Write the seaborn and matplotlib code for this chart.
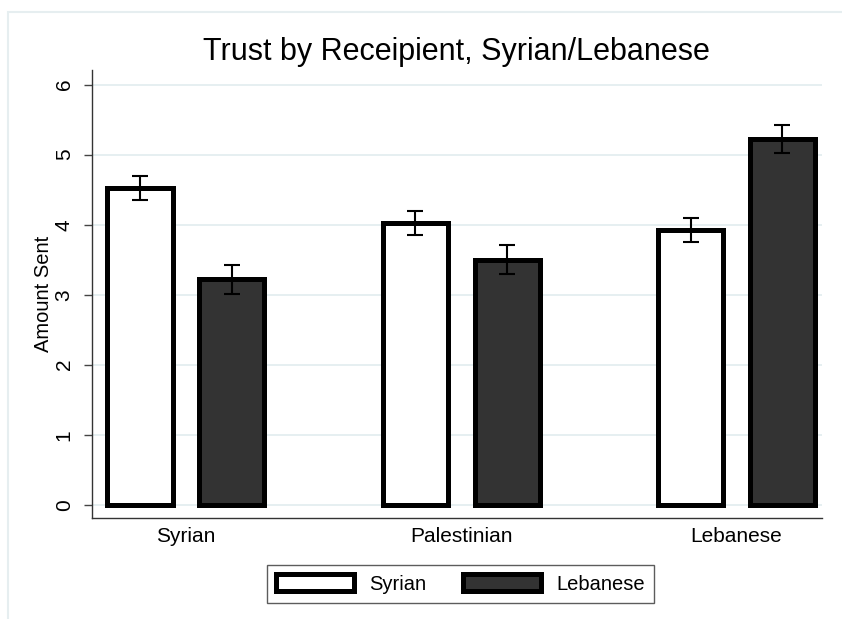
import matplotlib
matplotlib.use("Agg")
import matplotlib.pyplot as plt
import pandas as pd
import seaborn as sns
from matplotlib.patches import Rectangle

# Data
recipients = ["Syrian", "Palestinian", "Lebanese"]
senders = ["Syrian", "Lebanese"]
syrian_means = [4.52, 4.03, 3.92]
lebanese_means = [3.22, 3.50, 5.22]
syrian_err = [0.17, 0.17, 0.17]
lebanese_err = [0.21, 0.21, 0.20]

df = pd.DataFrame({
    "recipient": recipients * 2,
    "sender": [senders[0]] * 3 + [senders[1]] * 3,
    "amount": syrian_means + lebanese_means,
    "err": syrian_err + lebanese_err,
})

sns.set_style("white")
plt.rcParams["font.family"] = ["Liberation Sans", "DejaVu Sans"]
plt.rcParams["text.color"] = "black"
plt.rcParams["axes.labelcolor"] = "black"
plt.rcParams["xtick.color"] = "black"
plt.rcParams["ytick.color"] = "black"

fig = plt.figure(figsize=(8.42, 6.19), dpi=100)
ax = fig.add_axes([0.109, 0.163, 0.867, 0.724])

# light frame of the graph region (only top and left edges show)
fig.patches.append(Rectangle((8 / 842, -1), 2, 2 - 12 / 619, transform=fig.transFigure,
                             fill=False, edgecolor="#e6eef0", linewidth=1.5))

sns.barplot(data=df, x="recipient", y="amount", hue="sender", order=recipients,
            hue_order=senders, palette=["white", "#333333"], width=0.667, gap=0.29,
            edgecolor="black", linewidth=3.6, errorbar=None, ax=ax)

# error bars at the bar centres
for cont, s in zip(ax.containers, senders):
    sub = df[df["sender"] == s].set_index("recipient").loc[recipients]
    xs = [p.get_x() + p.get_width() / 2 for p in cont.patches]
    ax.errorbar(xs, sub["amount"], yerr=sub["err"], fmt="none", ecolor="black",
                elinewidth=1.5, capsize=6, capthick=1.5, zorder=5)

ax.set_ylim(-0.19, 6.21)
ax.set_xlim(-0.342, 2.31)
ax.set_yticks(range(7))
ax.yaxis.grid(True, color="#e4eef0", linewidth=1.3)
ax.set_axisbelow(True)
ax.tick_params(axis="y", left=True, length=6, width=1, color="#444444", labelsize=15,
               labelrotation=90, pad=7)
ax.tick_params(axis="x", bottom=False, labelsize=15, pad=3)
for lab in ax.get_yticklabels():
    lab.set_va("center")
for side in ["top", "right"]:
    ax.spines[side].set_visible(False)
for side in ["left", "bottom"]:
    ax.spines[side].set_color("#333333")
    ax.spines[side].set_linewidth(1)

ax.set_xlabel("")
ax.set_ylabel("Amount Sent", fontsize=14.5, labelpad=1)
ax.set_title("Trust by Receipient, Syrian/Lebanese", fontsize=22, pad=7)

leg = ax.legend(loc="upper center", bbox_to_anchor=(0.505, -0.083), ncol=2, fontsize=14.5,
                frameon=True, fancybox=False, edgecolor="#333333", handlelength=3.9,
                handleheight=0.9, columnspacing=1.8, handletextpad=0.75,
                borderpad=0.45, title=None)
leg.get_frame().set_linewidth(1)
for h in leg.legend_handles:
    h.set_linewidth(3.6)
    h.set_edgecolor("black")

fig.savefig("out.png", dpi=100)
